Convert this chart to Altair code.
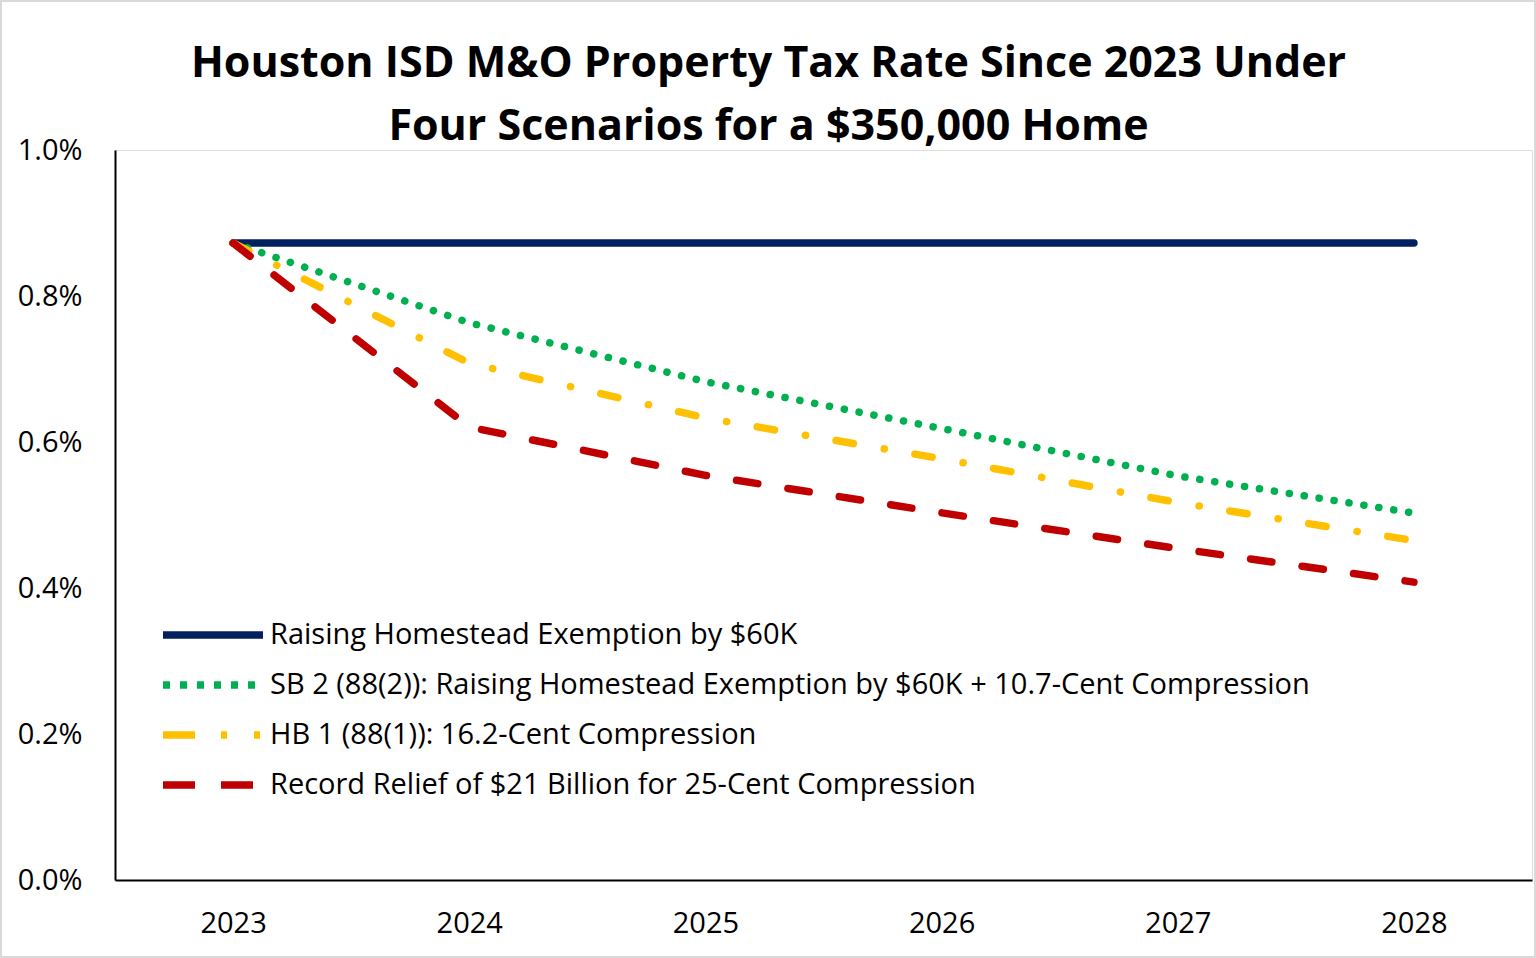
import altair as alt
import pandas as pd

years = ["2023", "2024", "2025", "2026", "2027", "2028"]
series = [
    "Raising Homestead Exemption by $60K",
    "SB 2 (88(2)): Raising Homestead Exemption by $60K + 10.7-Cent Compression",
    "HB 1 (88(1)): 16.2-Cent Compression",
    "Record Relief of $21 Billion for 25-Cent Compression",
]
# rates in percent
homestead_60k = [0.8726, 0.8726, 0.8726, 0.8726, 0.8726, 0.8726]
sb2 = [0.8726, 0.7634, 0.6826, 0.6185, 0.5535, 0.5027]
hb1 = [0.8726, 0.7080, 0.6330, 0.5770, 0.5170, 0.4650]
record_relief = [0.8726, 0.6205, 0.5543, 0.5030, 0.4540, 0.4080]

colors = ["#002060", "#00B050", "#FFC000", "#C00000"]
# dash patterns for the drawn lines (round caps)
line_dashes = [[1, 0], [0.1, 15], [17.5, 31.4, 0.1, 31], [21.5, 30.5]]
# dash patterns for the legend swatches (butt caps)
legend_dashes = [[1, 0], [7, 10], [32, 26, 6, 27, 6, 100], [32, 26]]

rows = []
for name, vals in zip(series, [homestead_60k, sb2, hb1, record_relief]):
    for y, v in zip(years, vals):
        rows.append({"Year": y, "Scenario": name, "Rate": v / 100.0})
df = pd.DataFrame(rows)

FONT = "Open Sans"
FS = 29

x_enc = alt.X(
    "Year:O",
    sort=years,
    scale=alt.Scale(type="point", padding=0.5),
    axis=alt.Axis(
        title=None, labelAngle=0, ticks=False, labelPadding=29,
        labelFont=FONT, labelFontSize=FS, labelColor="#000000",
        domainColor="#000000", domainWidth=2,
    ),
)
y_enc = alt.Y(
    "Rate:Q",
    scale=alt.Scale(domain=[0, 0.01]),
    axis=alt.Axis(
        title=None, format=".1%", values=[0, 0.002, 0.004, 0.006, 0.008, 0.01],
        ticks=False, grid=False, labelPadding=33,
        labelFont=FONT, labelFontSize=FS, labelColor="#000000",
        domainColor="#000000", domainWidth=2,
    ),
)

legend_def = dict(
    title=None, orient="none", legendX=44, legendY=460,
    symbolType="stroke", symbolSize=10000, symbolStrokeWidth=7.5, symbolOpacity=1,
    labelFont=FONT, labelFontSize=FS, labelColor="#000000",
    labelOffset=3, clipHeight=50, rowPadding=0, labelLimit=1400,
)

lines = alt.Chart(df).mark_line(
    strokeWidth=7.5, strokeCap="round", strokeJoin="round"
).encode(
    x=x_enc,
    y=y_enc,
    color=alt.Color("Scenario:N", scale=alt.Scale(domain=series, range=colors), legend=None),
    strokeDash=alt.StrokeDash("Scenario:N", scale=alt.Scale(domain=series, range=line_dashes), legend=None),
)

legend_layer = alt.Chart(df).mark_line(
    strokeWidth=7.5, strokeCap="butt", opacity=0
).encode(
    x=x_enc,
    y=y_enc,
    color=alt.Color("Scenario:N", scale=alt.Scale(domain=series, range=colors),
                    legend=alt.Legend(**legend_def)),
    strokeDash=alt.StrokeDash("Scenario:N", scale=alt.Scale(domain=series, range=legend_dashes),
                              legend=alt.Legend(**legend_def)),
)

frame = alt.Chart(alt.Data(values=[{}])).mark_rect(
    filled=False, stroke="#d9d9d9", strokeWidth=2
).encode(
    x=alt.value(-114), x2=alt.value(1420), y=alt.value(-149), y2=alt.value(807)
)

chart = alt.layer(frame, lines, legend_layer).resolve_scale(
    color="independent", strokeDash="independent"
).properties(
    width=1417,
    height=730,
    padding={"left": 115, "top": 150, "right": 4, "bottom": 78},
    autosize=alt.AutoSizeParams(type="none"),
    title=alt.TitleParams(
        text=["Houston ISD M&O Property Tax Rate Since 2023 Under",
              "Four Scenarios for a $350,000 Home"],
        font=FONT, fontSize=43, fontWeight="bold", color="#000000",
        anchor="middle", dx=-55, offset=-192, lineHeight=63, baseline="bottom",
    ),
).configure_view(stroke=None).configure(background="white")

chart.save("out.html", embed_options={"renderer": "svg", "actions": False})
